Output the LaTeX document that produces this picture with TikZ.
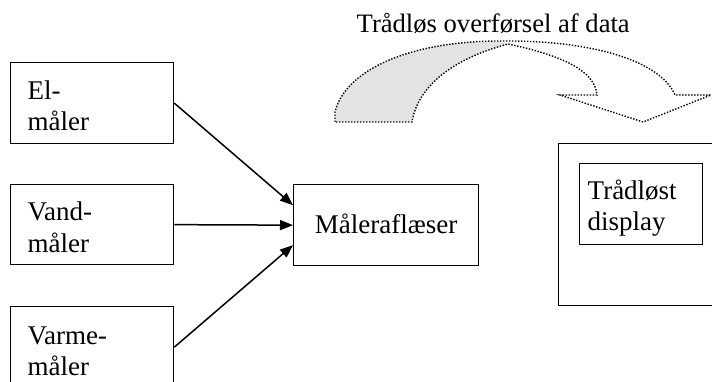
\documentclass[tikz,border=0pt]{standalone}
\usepackage{fontspec}
\setmainfont{Liberation Serif}
\usetikzlibrary{arrows.meta}
\begin{document}
\begin{tikzpicture}[x=1pt,y=-1pt,
  box/.style={draw,line width=1.3pt,inner sep=0pt,anchor=north west},
  txt/.style={inner sep=0pt,anchor=base west,font=\fontsize{27}{31}\selectfont},
  conn/.style={line width=1.5pt,-{Triangle[length=13pt,width=10pt]}},
  dots/.style={line width=1.4pt,dash pattern=on 1.4pt off 1.6pt}]
\useasboundingbox (0,0) rectangle (712,382);
% left boxes
\node[box,minimum width=163pt,minimum height=81pt] (el) at (10,62) {};
\node[box,minimum width=163pt,minimum height=80pt] (vand) at (10,184) {};
\node[box,minimum width=163pt,minimum height=81pt] (varme) at (10,306) {};
\node[txt] (elt1) at (27.5,100) {El-};
\node[txt] (elt2) at (27.5,131) {måler};
\node[txt] (vat1) at (27.5,221) {Vand-};
\node[txt] (vat2) at (27.5,252) {måler};
\node[txt] (vmt1) at (27.5,344) {Varme-};
\node[txt] (vmt2) at (27.5,375) {måler};
% reader box
\node[box,minimum width=185pt,minimum height=81pt] (m) at (293,184) {};
\node[inner sep=0pt,font=\fontsize{27}{31}\selectfont,anchor=base] (mt) at ([yshift=-8pt]m.center) {Måleraflæser};
% right boxes
\node[box,minimum width=200pt,minimum height=162pt] (disp) at (558,143) {};
\node[box,minimum width=123pt,minimum height=81pt] (td) at (579,163) {};
\node[txt] (tdt1) at (587.5,200) {Trådløst};
\node[txt] (tdt2) at (587.5,230) {display};
% connectors
\draw[conn] (el.east) -- ([yshift=20pt]m.west);
\draw[conn] (vand.east) -- (m.west);
\draw[conn] (varme.east) -- ([yshift=-20pt]m.west);
% curved arrow
\node[txt,font=\fontsize{26.6}{31}\selectfont] (lbl) at (356.5,33) {Trådløs overførsel af data};
\fill[black!11] (335,122) -- (335,112) .. controls (345,70) and (410,41) .. (500,41)
  -- (508,44) .. controls (455,58) and (418,85) .. (412,122) -- cycle;
\draw[dots] (335,122) -- (335,112) .. controls (345,70) and (410,41) .. (500,41)
  .. controls (590,40) and (660,60) .. (675,95)
  -- (711,95) -- (643,122) -- (560,95) -- (597,95)
  .. controls (595,70) and (560,55) .. (508,44)
  .. controls (455,58) and (418,85) .. (412,122) -- cycle;
\end{tikzpicture}
\end{document}
